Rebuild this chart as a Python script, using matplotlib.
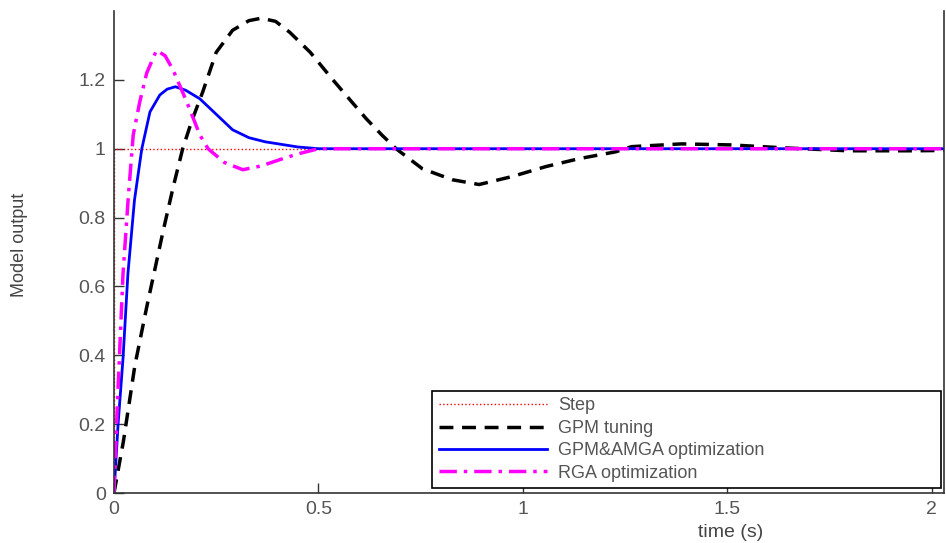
import numpy as np
import matplotlib
matplotlib.use('Agg')
import matplotlib.pyplot as plt

plt.rcParams['font.family'] = ['Liberation Sans', 'DejaVu Sans']

# step input
step_t = [0, 0, 2.03]
step_y = [0, 1, 1]

# GPM tuning
gpm_t = [0, 0.023, 0.051, 0.08, 0.12, 0.145, 0.168, 0.19, 0.217, 0.25, 0.29, 0.33,
         0.36, 0.395, 0.43, 0.48, 0.534, 0.575, 0.617, 0.655, 0.69, 0.754, 0.827,
         0.893, 0.973, 1.056, 1.137, 1.227, 1.266, 1.388, 1.51, 1.63, 1.795, 1.96, 2.03]
gpm_y = [0, 0.15, 0.37, 0.54, 0.76, 0.89, 1.0, 1.08, 1.165, 1.28, 1.344, 1.372,
         1.379, 1.37, 1.338, 1.28, 1.202, 1.145, 1.087, 1.04, 1.0, 0.942, 0.91,
         0.896, 0.919, 0.948, 0.971, 0.991, 1.006, 1.014, 1.011, 1.003, 0.994, 0.994, 0.995]

# GPM&AMGA optimization
amga_t = [0, 0.01, 0.022, 0.034, 0.05, 0.068, 0.088, 0.112, 0.13, 0.15, 0.175, 0.21,
          0.25, 0.29, 0.33, 0.37, 0.45, 0.5, 2.03]
amga_y = [0, 0.2, 0.39, 0.636, 0.85, 1.0, 1.107, 1.156, 1.173, 1.18, 1.17, 1.145,
          1.1, 1.055, 1.032, 1.02, 1.005, 1.0, 1.0]

# RGA optimization
rga_t = [0, 0.008, 0.022, 0.035, 0.047, 0.063, 0.08, 0.104, 0.125, 0.144, 0.178,
         0.21, 0.23, 0.27, 0.315, 0.36, 0.41, 0.45, 0.5, 2.03]
rga_y = [0, 0.25, 0.636, 0.86, 1.04, 1.136, 1.22, 1.286, 1.27, 1.23, 1.136,
         1.04, 1.0, 0.96, 0.939, 0.95, 0.97, 0.985, 1.0, 1.0]

labels = ['Step', 'GPM tuning', 'GPM&AMGA optimization', 'RGA optimization']

fig = plt.figure(figsize=(9.46, 5.43), dpi=100)
ax = fig.add_axes([114 / 946, 50 / 543, 830 / 946, 482 / 543])

ax.plot(step_t, step_y, ':', color='red', lw=1.0, label=labels[0])
ax.plot(gpm_t, gpm_y, '--', color='black', lw=2.5, dashes=(4, 2.5), label=labels[1])
ax.plot(amga_t, amga_y, '-', color='blue', lw=2.0, label=labels[2])
ax.plot(rga_t, rga_y, '-.', color='magenta', lw=2.5, dashes=(5, 2, 1, 2), label=labels[3])

ax.set_xlim(0, 2.03)
ax.set_ylim(0, 1.4)
ax.set_xticks([0, 0.5, 1, 1.5, 2])
ax.set_xticklabels(['0', '0.5', '1', '1.5', '2'])
ax.set_yticks([0, 0.2, 0.4, 0.6, 0.8, 1, 1.2])
ax.set_yticklabels(['0', '0.2', '0.4', '0.6', '0.8', '1', '1.2'])

ax.tick_params(direction='in', length=7, width=1, labelsize=14,
               labelcolor='#555555', color='#333333', pad=6)
ax.spines['top'].set_visible(False)
for s in ['left', 'bottom', 'right']:
    ax.spines[s].set_color('#333333')
    ax.spines[s].set_linewidth(1.2)

ax.set_xlabel('time (s)', fontsize=14, color='#444444')
ax.xaxis.set_label_coords(0.743, -0.065)
ax.set_ylabel('Model output', fontsize=13, color='#444444')
ax.yaxis.set_label_coords(-0.104, 0.514)

leg = ax.legend(loc='lower left', bbox_to_anchor=(0.3836, 0.0104, 0.613, 0.199),
                mode='expand', borderaxespad=0, fontsize=13, handlelength=6.0,
                labelspacing=0.3, borderpad=0.35, handletextpad=0.6,
                fancybox=False, framealpha=1)
leg.get_frame().set_edgecolor('black')
leg.get_frame().set_linewidth(1.2)
for txt in leg.get_texts():
    txt.set_color('#555555')

fig.savefig('out.png', dpi=100)
